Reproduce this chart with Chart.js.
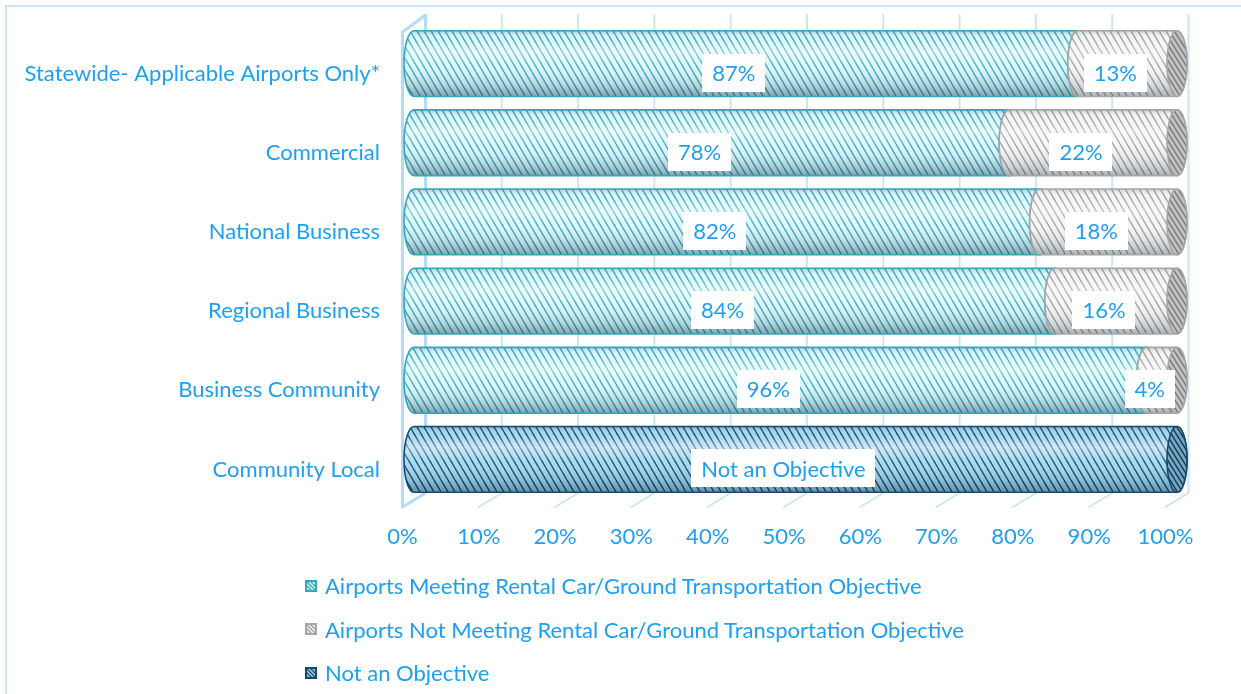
<!DOCTYPE html>
<html>
<head>
<meta charset="utf-8">
<script src="https://cdn.jsdelivr.net/npm/chart.js@4.4.1/dist/chart.umd.min.js"></script>
<style>
  html, body { margin: 0; padding: 0; background: #ffffff; }
  #wrap { position: relative; width: 1241px; height: 694px; overflow: hidden; background: #ffffff; }
  #frame { position: absolute; left: 5px; top: 5px; width: 1400px; height: 900px;
           border-left: 2px solid #cbe8fb; border-top: 2px solid #cbe8fb; box-sizing: border-box; }
  #chart { position: absolute; left: 0; top: 0; }
  #legend { position: absolute; left: 305px; top: 564px; font-family: Lato, "Open Sans", sans-serif;
            font-size: 22px; color: #1ea0f2; }
  .item { display: flex; align-items: center; height: 43.5px; white-space: nowrap; }
  .item canvas { width: 12px; height: 12px; margin-right: 8px; }
</style>
</head>
<body>
<div id="wrap">
  <div id="frame"></div>
  <canvas id="chart" width="1241" height="694"></canvas>
  <div id="legend"></div>
</div>
<script>
// ---- data ----
const categories = [
  'Statewide- Applicable Airports Only*',
  'Commercial',
  'National Business',
  'Regional Business',
  'Business Community',
  'Community Local'
];
const meetingValues = [87, 78, 82, 84, 96, 0];
const notMeetingValues = [13, 22, 18, 16, 4, 0];
const notObjectiveValues = [0, 0, 0, 0, 0, 100];
const seriesNames = [
  'Airports Meeting Rental Car/Ground Transportation Objective',
  'Airports Not Meeting Rental Car/Ground Transportation Objective',
  'Not an Objective'
];
const tickLabels = ['0%', '10%', '20%', '30%', '40%', '50%', '60%', '70%', '80%', '90%', '100%'];

// ---- styling ----
const TEXT = '#1ea0f2';
const FONT = 'Lato, "Open Sans", sans-serif';
const FONT_SIZE = 22;
const seriesStyles = [
  { bg: '#dcf6fb', line: '#35aabd', edge: '#36a6b8', capBg: '#9fd8e2', capLine: '#2c8fa0' },
  { bg: '#f5f5f5', line: '#a0a0a0', edge: '#a6a6a6', capBg: '#c4c4c4', capLine: '#7c7c7c' },
  { bg: '#a2d9f1', line: '#1c4b6d', edge: '#174a6e', capBg: '#7aa8c0', capLine: '#173f5e' }
];

function makePattern(bg, line, w, h, lw) {
  const c = document.createElement('canvas');
  c.width = w; c.height = h;
  const g = c.getContext('2d');
  g.fillStyle = bg;
  g.fillRect(0, 0, w, h);
  g.strokeStyle = line;
  g.lineWidth = lw;
  for (let i = -1; i <= 1; i++) {
    for (let j = -1; j <= 1; j++) {
      g.beginPath();
      g.moveTo(i * w, j * h);
      g.lineTo(i * w + w, j * h + h);
      g.stroke();
    }
  }
  return c;
}

const ctxMain = document.getElementById('chart').getContext('2d');
const bodyPatterns = seriesStyles.map(s => ctxMain.createPattern(makePattern(s.bg, s.line, 7, 12, 1.4), 'repeat'));
const capPatterns = seriesStyles.map(s => ctxMain.createPattern(makePattern(s.capBg, s.capLine, 5, 8, 1.5), 'repeat'));

// 3D depth offsets of the floor/back wall relative to the bar plane
const DEPTH_X = 11.5;
const RX = 10;

function drawFrame(chart) {
  const ctx = chart.ctx, xs = chart.scales.x, a = chart.chartArea;
  const backTop = a.top - 9, backBottom = a.bottom - 6;
  const frontTop = a.top + 8, frontBottom = a.bottom + 8;
  ctx.save();
  ctx.lineCap = 'round';
  ctx.strokeStyle = '#cde6f7';
  ctx.lineWidth = 2;
  for (let v = 10; v <= 100; v += 10) {
    const px = xs.getPixelForValue(v);
    ctx.beginPath();
    ctx.moveTo(px + DEPTH_X, backTop);
    ctx.lineTo(px + DEPTH_X, backBottom);
    ctx.stroke();
    ctx.beginPath();
    ctx.moveTo(px - DEPTH_X, frontBottom);
    ctx.lineTo(px + DEPTH_X, backBottom);
    ctx.stroke();
  }
  // side wall at zero
  const p0 = xs.getPixelForValue(0);
  ctx.strokeStyle = '#b4dcf6';
  ctx.lineWidth = 3;
  ctx.lineJoin = 'round';
  ctx.beginPath();
  ctx.moveTo(p0 + DEPTH_X, backBottom);
  ctx.lineTo(p0 - DEPTH_X, frontBottom);
  ctx.lineTo(p0 - DEPTH_X, frontTop);
  ctx.lineTo(p0 + DEPTH_X, backTop);
  ctx.lineTo(p0 + DEPTH_X, backBottom);
  ctx.stroke();
  ctx.restore();
}

function shade(ctx, top, bottom, strength) {
  const g = ctx.createLinearGradient(0, top, 0, bottom);
  g.addColorStop(0, 'rgba(0,40,60,' + (0.22 * strength) + ')');
  g.addColorStop(0.12, 'rgba(255,255,255,0)');
  g.addColorStop(0.32, 'rgba(255,255,255,' + (0.45 * strength) + ')');
  g.addColorStop(0.55, 'rgba(255,255,255,0.05)');
  g.addColorStop(0.85, 'rgba(0,30,50,' + (0.18 * strength) + ')');
  g.addColorStop(1, 'rgba(0,30,50,' + (0.38 * strength) + ')');
  return g;
}

function cylinderPath(ctx, x0, x1, cy, ry) {
  ctx.beginPath();
  ctx.moveTo(x0, cy - ry);
  ctx.lineTo(x1, cy - ry);
  ctx.ellipse(x1, cy, RX, ry, 0, -Math.PI / 2, Math.PI / 2, false);
  ctx.lineTo(x0, cy + ry);
  ctx.ellipse(x0, cy, RX, ry, 0, Math.PI / 2, Math.PI * 1.5, false);
  ctx.closePath();
}

function drawCylinders(chart) {
  const ctx = chart.ctx;
  ctx.save();
  chart.data.datasets.forEach((ds, di) => {
    const meta = chart.getDatasetMeta(di);
    const st = seriesStyles[di];
    meta.data.forEach((el, i) => {
      if (!ds.data[i]) return;
      const p = el.getProps(['x', 'y', 'base', 'height'], true);
      const x0 = Math.min(p.x, p.base), x1 = Math.max(p.x, p.base);
      const ry = p.height / 2, cy = p.y;
      // body
      cylinderPath(ctx, x0, x1, cy, ry);
      ctx.fillStyle = bodyPatterns[di];
      ctx.fill();
      ctx.fillStyle = shade(ctx, cy - ry, cy + ry, di === 1 ? 0.8 : 1);
      ctx.fill();
      ctx.lineWidth = 1.6;
      ctx.strokeStyle = st.edge;
      ctx.stroke();
      // end face
      ctx.beginPath();
      ctx.ellipse(x1, cy, RX, ry, 0, 0, Math.PI * 2);
      ctx.fillStyle = capPatterns[di];
      ctx.fill();
      ctx.lineWidth = 1.6;
      ctx.strokeStyle = st.edge;
      ctx.stroke();
    });
  });
  ctx.restore();
}

function drawLabels(chart) {
  const ctx = chart.ctx;
  ctx.save();
  ctx.font = FONT_SIZE + 'px ' + FONT;
  ctx.textAlign = 'center';
  ctx.textBaseline = 'middle';
  chart.data.datasets.forEach((ds, di) => {
    const meta = chart.getDatasetMeta(di);
    meta.data.forEach((el, i) => {
      const v = ds.data[i];
      if (!v) return;
      const p = el.getProps(['x', 'y', 'base'], true);
      const text = di === 2 ? seriesNames[2] : v + '%';
      const cx = (p.x + p.base) / 2 - 12;
      const cy = p.y + 9;
      const w = ctx.measureText(text).width + 20;
      const h = 38;
      ctx.fillStyle = '#ffffff';
      ctx.fillRect(Math.round(cx - w / 2), Math.round(cy - h / 2), Math.round(w), h);
      ctx.fillStyle = TEXT;
      ctx.fillText(text, cx, cy + 1);
    });
  });
  ctx.restore();
}

const cylinderPlugin = {
  id: 'cylinders',
  beforeDatasetsDraw(chart) { drawFrame(chart); },
  afterDatasetsDraw(chart) { drawCylinders(chart); drawLabels(chart); }
};

const seriesValues = [meetingValues, notMeetingValues, notObjectiveValues];

new Chart(ctxMain, {
  type: 'bar',
  data: {
    labels: categories,
    datasets: seriesValues.map((vals, i) => ({
      label: seriesNames[i],
      data: vals,
      backgroundColor: 'rgba(0,0,0,0)',
      borderWidth: 0,
      barPercentage: 0.83,
      categoryPercentage: 1
    }))
  },
  options: {
    indexAxis: 'y',
    responsive: false,
    animation: false,
    events: [],
    layout: { padding: { top: 24, right: 64, left: 0, bottom: 0 } },
    plugins: { legend: { display: false }, tooltip: { enabled: false } },
    scales: {
      x: {
        stacked: true,
        min: 0, max: 100,
        border: { display: false },
        grid: { display: false, drawTicks: false },
        afterFit(scale) { scale.height = 195; scale.paddingLeft = 0; scale.paddingRight = 0; },
        ticks: {
          stepSize: 10,
          padding: 25,
          labelOffset: -DEPTH_X,
          color: TEXT,
          font: { family: FONT, size: FONT_SIZE },
          callback: (v) => tickLabels[Math.round(v / 10)]
        }
      },
      y: {
        stacked: true,
        border: { display: false },
        grid: { display: false, drawTicks: false },
        afterFit(scale) { scale.width = 414; scale.paddingTop = 0; scale.paddingBottom = 0; },
        ticks: {
          padding: 34,
          labelOffset: 10,
          color: TEXT,
          font: { family: FONT, size: FONT_SIZE }
        }
      }
    }
  },
  plugins: [cylinderPlugin]
});

// legend built from the series names
const legend = document.getElementById('legend');
seriesNames.forEach((name, i) => {
  const row = document.createElement('div');
  row.className = 'item';
  const sw = document.createElement('canvas');
  sw.width = 12; sw.height = 12;
  const g = sw.getContext('2d');
  g.fillStyle = g.createPattern(makePattern(seriesStyles[i].bg, seriesStyles[i].line, 4, 4, 1.4), 'repeat');
  g.fillRect(0, 0, 12, 12);
  g.strokeStyle = seriesStyles[i].edge;
  g.lineWidth = 2;
  g.strokeRect(1, 1, 10, 10);
  const span = document.createElement('span');
  span.textContent = name;
  row.appendChild(sw);
  row.appendChild(span);
  legend.appendChild(row);
});
</script>
</body>
</html>
